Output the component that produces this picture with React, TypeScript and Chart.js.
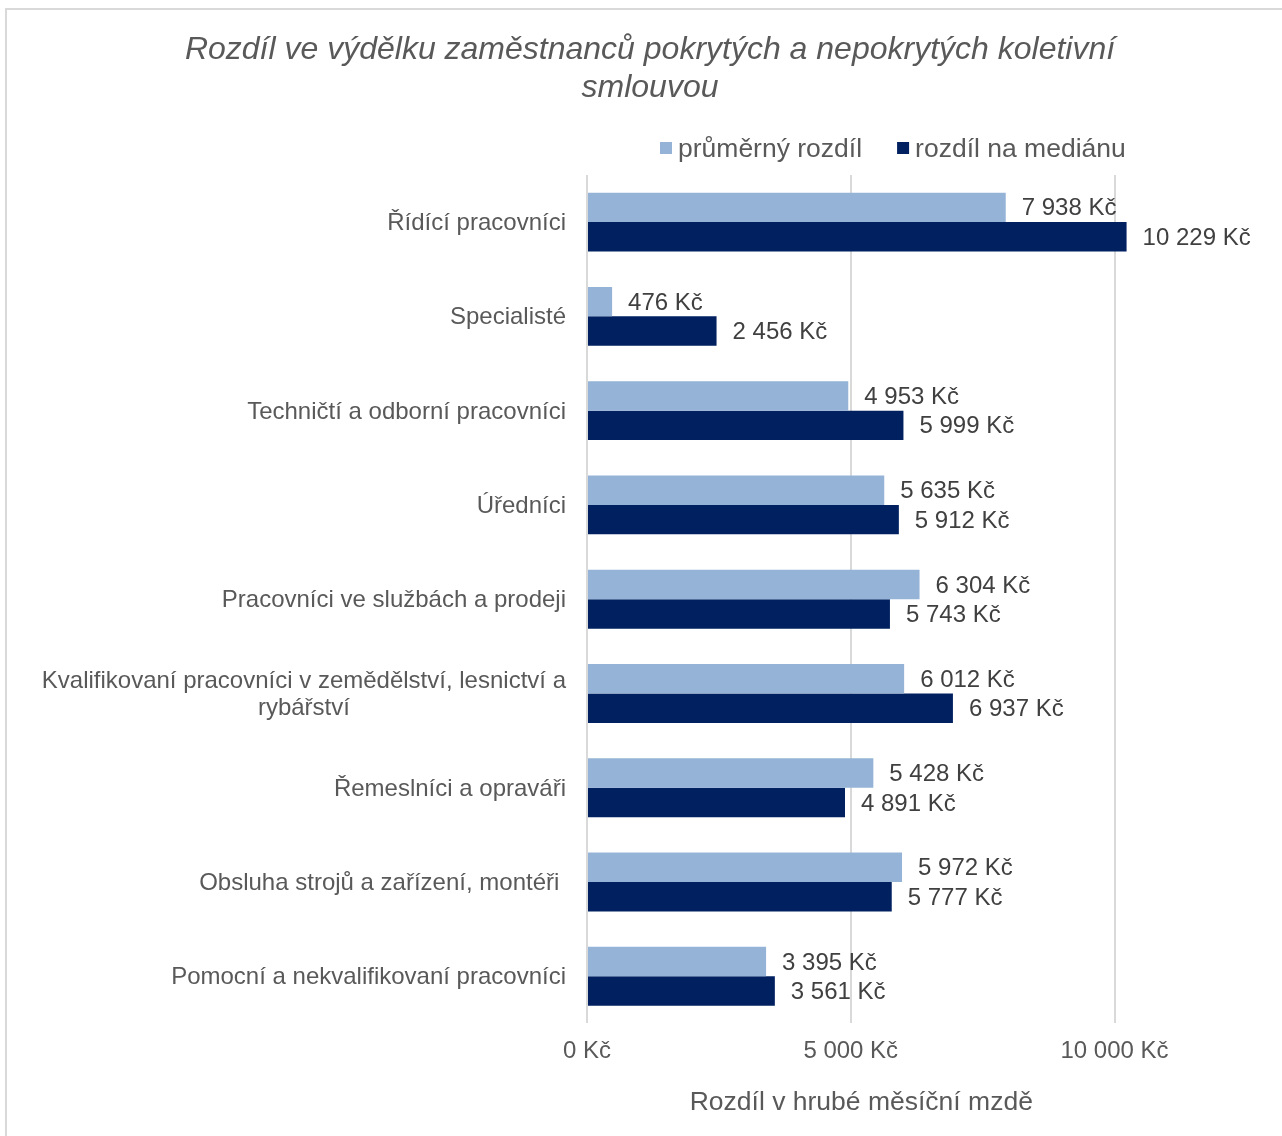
import { useEffect, useRef } from 'react';
import { Chart, registerables } from 'chart.js';

Chart.register(...registerables);

const FONT = '"Liberation Sans", Arial, Helvetica, sans-serif';

const titleLines = ['Rozdíl ve výdělku zaměstnanců pokrytých a nepokrytých koletivní', 'smlouvou'];
const axisTitle = 'Rozdíl v hrubé měsíční mzdě';
const seriesNames = ['průměrný rozdíl', 'rozdíl na mediánu'];
const seriesColors = ['#95b3d7', '#002060'];

const categories: (string | string[])[] = [
  'Řídící pracovníci',
  'Specialisté',
  'Techničtí a odborní pracovníci',
  'Úředníci',
  'Pracovníci ve službách a prodeji',
  ['Kvalifikovaní pracovníci v zemědělství, lesnictví a', 'rybářství'],
  'Řemeslníci a opraváři',
  'Obsluha strojů a zařízení, montéři ',
  'Pomocní a nekvalifikovaní pracovníci',
];

const averageDiff = [7938, 476, 4953, 5635, 6304, 6012, 5428, 5972, 3395];
const medianDiff = [10229, 2456, 5999, 5912, 5743, 6937, 4891, 5777, 3561];

const xTicks = [0, 5000, 10000];
const xMin = 0;
const xMax = 10400;

const TEXT_DY = 1.5;

const fmtKc = (v: number) => String(Math.round(v)).replace(/\B(?=(\d{3})+(?!\d))/g, ' ') + ' Kč';

const categoryLabelsPlugin = {
  id: 'categoryLabels',
  afterDraw(chart: any) {
    const { ctx, chartArea } = chart;
    const yScale = chart.scales.y;
    const right = chartArea.left - 21;
    const lh = 27.5;
    ctx.save();
    ctx.font = `24px ${FONT}`;
    ctx.fillStyle = '#595959';
    ctx.textBaseline = 'middle';
    ctx.textAlign = 'center';
    (chart.data.labels as any[]).forEach((lab, i) => {
      const lines: string[] = Array.isArray(lab) ? lab : [lab];
      const cy = yScale.getPixelForValue(i) + TEXT_DY;
      const widths = lines.map((l) => ctx.measureText(l).width);
      const maxW = Math.max(...widths);
      lines.forEach((ln, j) => {
        ctx.fillText(ln, right - maxW / 2, cy + (j - (lines.length - 1) / 2) * lh);
      });
    });
    ctx.restore();
  },
};

const dataLabelsPlugin = {
  id: 'barValueLabels',
  afterDatasetsDraw(chart: any) {
    const { ctx } = chart;
    ctx.save();
    ctx.font = `24px ${FONT}`;
    ctx.fillStyle = '#404040';
    ctx.textBaseline = 'middle';
    ctx.textAlign = 'left';
    chart.data.datasets.forEach((ds: any, di: number) => {
      const meta = chart.getDatasetMeta(di);
      meta.data.forEach((bar: any, i: number) => {
        const { x, y } = bar.getProps(['x', 'y'], true);
        ctx.fillText(fmtKc(ds.data[i]), x + 16, y + TEXT_DY);
      });
    });
    ctx.restore();
  },
};

const customLegendPlugin = {
  id: 'customLegend',
  afterDraw(chart: any) {
    const { ctx } = chart;
    const cy = 138;
    let x = 653;
    ctx.save();
    ctx.font = `26.5px ${FONT}`;
    ctx.textBaseline = 'middle';
    ctx.textAlign = 'left';
    chart.data.datasets.forEach((ds: any) => {
      ctx.fillStyle = ds.backgroundColor;
      ctx.fillRect(x, cy - 6, 12, 12);
      ctx.fillStyle = '#595959';
      ctx.fillText(ds.label, x + 18, cy + TEXT_DY);
      x += 18 + ctx.measureText(ds.label).width + 35;
    });
    ctx.restore();
  },
};

export default function App() {
  const canvasRef = useRef<HTMLCanvasElement | null>(null);

  useEffect(() => {
    if (!canvasRef.current) return;
    const chart = new Chart(canvasRef.current, {
      type: 'bar',
      data: {
        labels: categories as any,
        datasets: [
          {
            label: seriesNames[0],
            data: averageDiff,
            backgroundColor: seriesColors[0],
            xAxisID: 'x',
            yAxisID: 'y',
          },
          {
            label: seriesNames[1],
            data: medianDiff,
            backgroundColor: seriesColors[1],
            xAxisID: 'x',
            yAxisID: 'y',
          },
        ],
      },
      options: {
        indexAxis: 'y',
        responsive: false,
        animation: false,
        devicePixelRatio: 1,
        layout: { padding: 0 },
        datasets: {
          bar: { categoryPercentage: 0.625, barPercentage: 1 },
        },
        scales: {
          x: {
            type: 'linear',
            position: 'bottom',
            min: xMin,
            max: xMax,
            afterBuildTicks: (s: any) => {
              s.ticks = xTicks.map((v) => ({ value: v }));
            },
            grid: { color: '#d9d9d9', lineWidth: 2, drawTicks: false },
            border: { display: false },
            ticks: {
              padding: 14,
              color: '#595959',
              font: { family: FONT, size: 24 },
              callback: (v: any) => fmtKc(Number(v)),
            },
            title: {
              display: true,
              text: axisTitle,
              color: '#595959',
              font: { family: FONT, size: 26.5 },
              padding: { top: 7, bottom: 0 },
            },
          },
          y: {
            type: 'category',
            position: 'left',
            grid: { display: false },
            border: { display: false },
            ticks: { display: false },
            afterFit: (s: any) => {
              s.width = 580;
            },
          },
          y2: {
            type: 'linear',
            position: 'right',
            grid: { display: false },
            border: { display: false },
            ticks: { display: false },
            afterFit: (s: any) => {
              s.width = 157.4;
            },
          },
        },
        plugins: {
          legend: { display: false },
          tooltip: { enabled: false },
          title: {
            display: true,
            text: titleLines,
            color: '#595959',
            font: { family: FONT, size: 32, style: 'italic', weight: 'normal', lineHeight: 1.19 },
            padding: { top: 20.9, bottom: 67.9 },
          },
        },
      },
      plugins: [categoryLabelsPlugin, dataLabelsPlugin, customLegendPlugin],
    } as any);
    return () => chart.destroy();
  }, []);

  return (
    <div
      style={{
        position: 'fixed',
        left: 5,
        top: 8,
        width: 1277,
        height: 1128,
        overflow: 'hidden',
        background: '#ffffff',
        borderLeft: '2px solid #d9d9d9',
        borderTop: '2px solid #d9d9d9',
        boxSizing: 'border-box',
      }}
    >
      <canvas ref={canvasRef} width={1286} height={1109} style={{ display: 'block' }} />
    </div>
  );
}
